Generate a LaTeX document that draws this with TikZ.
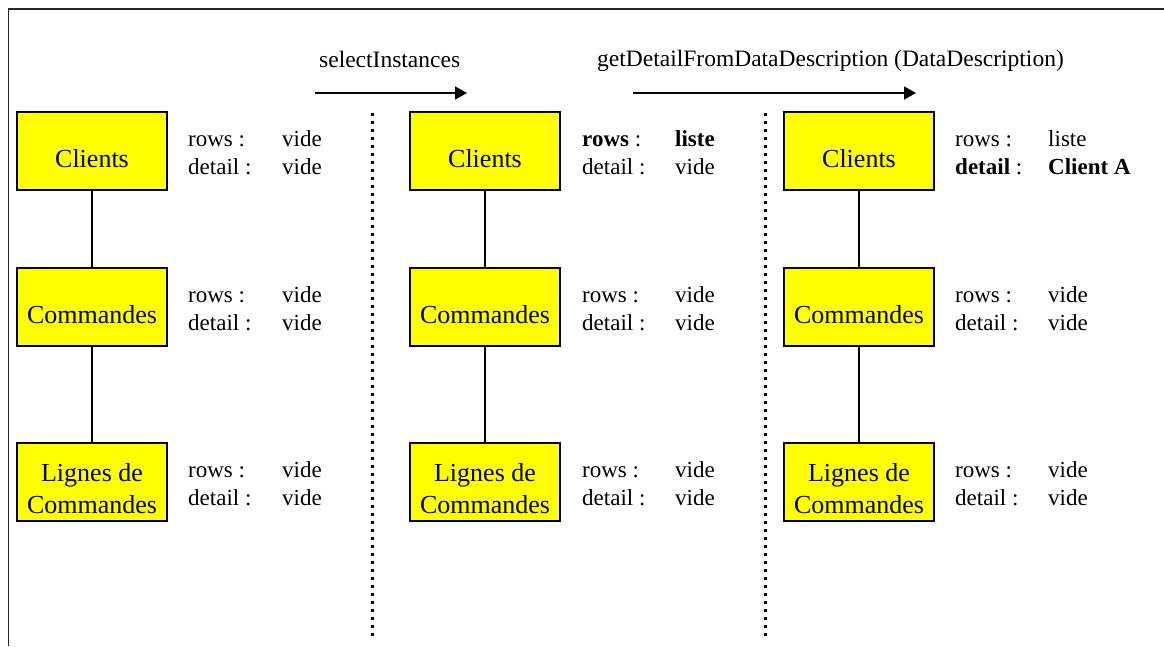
\documentclass[tikz,border=0pt]{standalone}
\usepackage{fontspec}
\setmainfont{Liberation Serif}
\usetikzlibrary{arrows.meta}

\definecolor{entityfill}{RGB}{255,255,0}

\tikzset{
  entity/.style={draw=black, fill=entityfill, line width=1.6pt, minimum width=150pt,
                 minimum height=78pt, inner sep=0pt},
  entitytext/.style={font=\fontsize{26}{32}\selectfont, align=center, inner sep=0pt},
  info/.style={font=\fontsize{23}{28}\selectfont, anchor=base west, inner sep=0pt},
  link/.style={line width=1.6pt},
  sep/.style={line width=2.5pt, dash pattern=on 2.5pt off 5.5pt},
  frame/.style={line width=1.8pt, draw=black!85},
  step arrow/.style={line width=1.6pt, -{Triangle[length=12pt,width=13pt]}},
  caption/.style={font=\fontsize{23.5}{28}\selectfont, anchor=base west, inner sep=0pt}
}

\begin{document}
\begin{tikzpicture}[x=1pt,y=-1pt]
\useasboundingbox (0,0) rectangle (1164,646);

% outer frame (top and left edges)
\draw[frame] (1164,9) -- (8.5,9) -- (8.5,646);

% operation labels and arrows
\node[caption] (op1) at (319,67) {selectInstances};
\node[caption] (op2) at (597,66) {getDetailFromDataDescription (DataDescription)};
\coordinate (a1s) at (315,93);
\coordinate (a1e) at (467,93);
\coordinate (a2s) at (633,93);
\coordinate (a2e) at (916,93);
\draw[step arrow] (a1s) -- (a1e);
\draw[step arrow] (a2s) -- (a2e);

% dotted separators between states
\coordinate (s1t) at (372.5,113);
\coordinate (s1b) at (372.5,636);
\coordinate (s2t) at (765.5,113);
\coordinate (s2b) at (765.5,636);
\draw[sep] (s1t) -- (s1b);
\draw[sep] (s2t) -- (s2b);

% three states of the hierarchy
\foreach \col/\x/\tx/\vx in {1/92/188/282, 2/485/582/675, 3/859/955/1048} {
  \node[entity] (cl\col) at (\x,151) {};
  \node[entitytext] (cl\col t) at (\x,159) {Clients};
  \node[entity] (co\col) at (\x,307) {};
  \node[entitytext] (co\col t) at (\x,315) {Commandes};
  \node[entity] (li\col) at (\x,482) {};
  \node[entitytext] (li\col t) at (\x,489) {Lignes de\\Commandes};
  \draw[link] (cl\col) -- (co\col);
  \draw[link] (co\col) -- (li\col);
  % rows / detail of the second and third levels
  \node[info] (co\col r) at (\tx,302) {rows :};
  \node[info] (co\col rv) at (\vx,302) {vide};
  \node[info] (co\col d) at (\tx,330) {detail :};
  \node[info] (co\col dv) at (\vx,330) {vide};
  \node[info] (li\col r) at (\tx,477) {rows :};
  \node[info] (li\col rv) at (\vx,477) {vide};
  \node[info] (li\col d) at (\tx,505) {detail :};
  \node[info] (li\col dv) at (\vx,505) {vide};
}

% rows / detail of the top level
\node[info] (cl1r)  at (188,146) {rows :};
\node[info] (cl1rv) at (282,146) {vide};
\node[info] (cl1d)  at (188,174) {detail :};
\node[info] (cl1dv) at (282,174) {vide};

\node[info] (cl2r)  at (582,146) {\textbf{rows} :};
\node[info] (cl2rv) at (675,146) {\textbf{liste}};
\node[info] (cl2d)  at (582,174) {detail :};
\node[info] (cl2dv) at (675,174) {vide};

\node[info] (cl3r)  at (955,146) {rows :};
\node[info] (cl3rv) at (1048,146) {liste};
\node[info] (cl3d)  at (955,174) {\textbf{detail} :};
\node[info] (cl3dv) at (1048,174) {\textbf{Client A}};
\end{tikzpicture}
\end{document}
